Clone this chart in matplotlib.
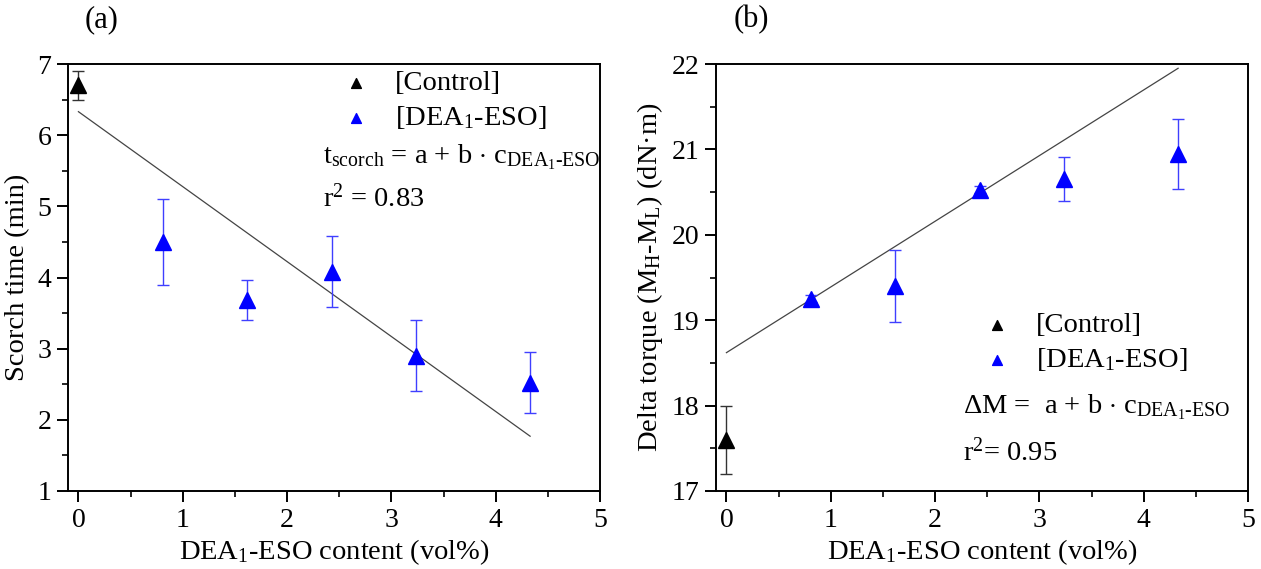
import matplotlib
matplotlib.use("Agg")
import matplotlib.pyplot as plt
import numpy as np

plt.rcParams['font.family'] = ['Liberation Serif', 'DejaVu Serif']
plt.rcParams['mathtext.fontset'] = 'custom'
plt.rcParams['mathtext.rm'] = 'Liberation Serif'
plt.rcParams['mathtext.it'] = 'Liberation Serif:italic'
plt.rcParams['mathtext.bf'] = 'Liberation Serif:bold'

# ---- data (a) scorch time ----
ctrl_x = [0.0]
a_ctrl_y = [6.7]
a_ctrl_err = [0.2]
dea_x = [0.81, 1.62, 2.43, 3.24, 4.33]
a_dea_y = [4.5, 3.68, 4.08, 2.9, 2.52]
a_dea_err = [0.6, 0.28, 0.5, 0.5, 0.43]
a_fit_x = [0.0, 4.33]
a_fit_y = [6.33, 1.77]

# ---- data (b) delta torque ----
b_ctrl_y = [17.6]
b_ctrl_err = [0.4]
b_dea_y = [19.25, 19.4, 20.53, 20.65, 20.95]
b_dea_err = [0.04, 0.42, 0.04, 0.26, 0.41]
b_fit_x = [0.0, 4.33]
b_fit_y = [18.62, 21.95]

xticks = [0, 1, 2, 3, 4, 5]
a_yticks = [1, 2, 3, 4, 5, 6, 7]
b_yticks = [17, 18, 19, 20, 21, 22]

FS = 20.5
TFS = 20
fig = plt.figure(figsize=(12.61, 5.69), dpi=100)
axA = fig.add_axes([68/1261, 1-491/569, 532/1261, 427/569])
axB = fig.add_axes([716/1261, 1-491/569, 532/1261, 427/569])

def style(ax, yticks, ylim):
    ax.set_xlim(-0.1, 5)
    ax.set_ylim(*ylim)
    ax.set_xticks(xticks)
    ax.set_yticks(yticks)
    ax.set_xticks(np.arange(0.5, 5, 1), minor=True)
    ax.set_yticks(np.arange(yticks[0] + 0.5, yticks[-1], 1), minor=True)
    ax.tick_params(which='major', direction='out', length=8, width=1.4, labelsize=TFS, pad=4)
    ax.tick_params(which='minor', direction='out', length=4, width=1.2)
    for s in ax.spines.values():
        s.set_linewidth(1.4)
    ax.set_xlabel('DEA$_1$-ESO content (vol%)', fontsize=FS, labelpad=3)

def draw(ax, cy, cerr, dy, derr, fx, fy):
    ax.plot(fx, fy, color='#444444', lw=0.9, zorder=1)
    ax.errorbar(ctrl_x, cy, yerr=cerr, fmt='^', color='black', ms=11,
                ecolor='#333333', elinewidth=1.0, capsize=4, capthick=1.0, zorder=3)
    ax.errorbar(dea_x, dy, yerr=derr, fmt='^', color='#0000ff', ms=11,
                ecolor='#3f3fff', elinewidth=1.0, capsize=4, capthick=1.0, zorder=3)
    h1 = ax.scatter([], [], marker='^', color='black', s=50)
    h2 = ax.scatter([], [], marker='^', color='#0000ff', s=50)
    return [h1, h2]

leg_kw = dict(loc='upper left', frameon=False, fontsize=FS,
              handlelength=1.0, handletextpad=0.85, labelspacing=0.28,
              borderpad=0, borderaxespad=0)

hA = draw(axA, a_ctrl_y, a_ctrl_err, a_dea_y, a_dea_err, a_fit_x, a_fit_y)
style(axA, a_yticks, (1, 7))
axA.set_ylabel('Scorch time (min)', fontsize=FS, labelpad=5)
axA.legend(hA, ['[Control]', '[DEA$_1$-ESO]'], bbox_to_anchor=(0.515, 0.985), **leg_kw)
axA.text(0.479, 0.782, r't$_{\mathrm{scorch}}$ = a + b $\cdot$ c$_{\mathrm{DEA_1\text{-}ESO}}$',
         transform=axA.transAxes, fontsize=FS, ha='left', va='center')
axA.text(0.479, 0.686, r'r$^2$ = 0.83', transform=axA.transAxes, fontsize=FS,
         ha='left', va='center')

hB = draw(axB, b_ctrl_y, b_ctrl_err, b_dea_y, b_dea_err, b_fit_x, b_fit_y)
style(axB, b_yticks, (17, 22))
axB.set_ylabel('Delta torque (M$_{\mathrm{H}}$-M$_{\mathrm{L}}$) (dN·m)', fontsize=FS, labelpad=5)
axB.legend(hB, ['[Control]', '[DEA$_1$-ESO]'], bbox_to_anchor=(0.502, 0.418), **leg_kw)
axB.text(0.464, 0.197, r'ΔM =  a + b $\cdot$ c$_{\mathrm{DEA_1\text{-}ESO}}$',
         transform=axB.transAxes, fontsize=FS, ha='left', va='center')
axB.text(0.464, 0.091, r'r$^2$= 0.95', transform=axB.transAxes, fontsize=FS,
         ha='left', va='center')

fig.text(102/1261, 1-20/569, '(a)', fontsize=22, ha='center', va='center')
fig.text(751/1261, 1-20/569, '(b)', fontsize=22, ha='center', va='center')

fig.savefig('out.png', dpi=100)
